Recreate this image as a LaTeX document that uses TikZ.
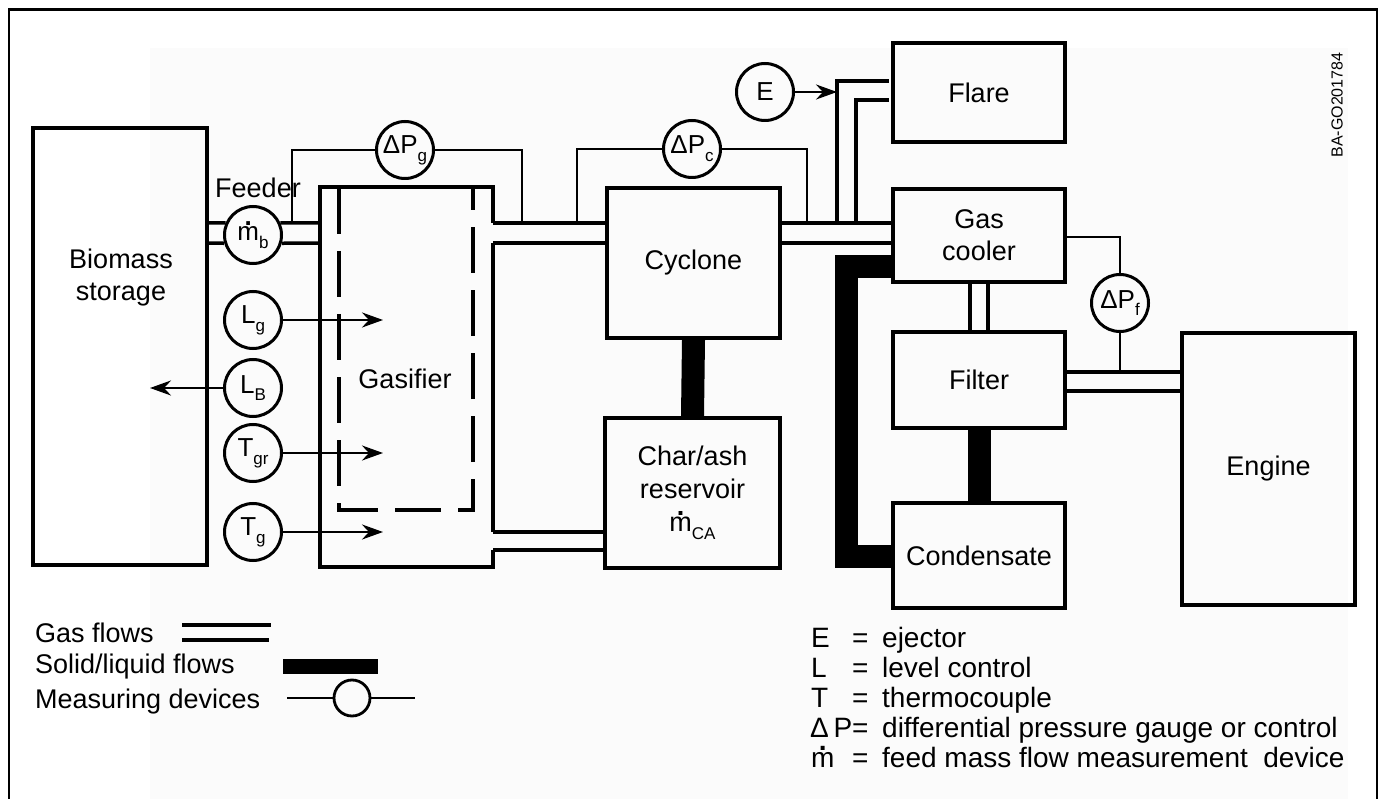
\documentclass[tikz,border=0pt]{standalone}
\usepackage{fontspec}
\setmainfont{Liberation Sans}
\usetikzlibrary{arrows.meta}
\newcommand{\mdt}{\leavevmode\setbox0\hbox{m}\hbox to \wd0{\hss\raisebox{0.58em}{\textbf{.}}\hss}\kern-\wd0 m}
\newcommand{\sbs}[1]{\raisebox{-0.3em}{\fontsize{17}{17}\selectfont #1}}
\definecolor{paper}{RGB}{251,251,251}
\begin{document}
\begin{tikzpicture}[x=1pt,y=-1pt,
  boxline/.style={line width=3.5pt, line join=miter},
  box/.style={draw, boxline, inner sep=0pt, font=\fontsize{27}{32}\selectfont, align=center},
  lbl/.style={inner sep=0pt, font=\fontsize{27}{32}\selectfont, align=center},
  meas/.style={draw, circle, line width=3pt, minimum size=57pt, inner sep=0pt, font=\fontsize{26}{26}\selectfont},
  pipe/.style={line width=3.5pt},
  sig/.style={line width=2.6pt},
  solidflow/.style={line width=23pt},
  arr/.style={line width=2.8pt, -{Stealth[length=21pt,width=15pt,inset=7pt]}},
  dashbox/.style={line width=3.5pt, dash pattern=on 46pt off 17pt},
  legtxt/.style={inner sep=0pt, anchor=base west, font=\fontsize{27}{32}\selectfont},
  keytxt/.style={inner sep=0pt, anchor=base west, font=\fontsize{28}{32}\selectfont}
]
\useasboundingbox (0,0) rectangle (1381,799);
\fill[paper] (150,48) rectangle (1348,799);
\draw[line width=2.5pt] (9,799) -- (9,9.5) -- (1377,9.5) -- (1377,799);

% level coordinates
\coordinate (Y223) at (0,223);
\coordinate (Y237) at (0,237);
\coordinate (Y243) at (0,243);
\coordinate (Y372) at (0,372);
\coordinate (Y391) at (0,391);
\coordinate (Y532) at (0,532);
\coordinate (Y550) at (0,550);
\coordinate (X970) at (970,0);
\coordinate (X988) at (988,0);

% boxes
\node[box, minimum width=174pt, minimum height=437pt] (storage) at (120,346.5) {};
\node[lbl] (storagelbl) at (121,278) {Biomass\\storage};
\node[draw=none, minimum width=173pt, minimum height=380pt, inner sep=0pt] (gasifier) at (406.5,377) {};
\node[lbl] (gaslbl) at (405,379) {Gasifier};
\node[box, minimum width=173pt, minimum height=150pt] (cyclone) at (693.5,263) {Cyclone};
\node[box, minimum width=175pt, minimum height=150pt, font=\fontsize{27}{33}\selectfont] (char) at (692.5,493) {Char/ash\\reservoir\\\mdt\sbs{CA}};
\node[box, minimum width=172pt, minimum height=99pt] (flare) at (979,92.5) {Flare};
\node[box, minimum width=172pt, minimum height=93pt] (gc) at (979,235.5) {Gas\\cooler};
\node[box, minimum width=172pt, minimum height=96pt] (filter) at (979,380) {Filter};
\node[box, minimum width=172pt, minimum height=105pt] (cond) at (979,555.5) {Condensate};
\node[box, minimum width=173pt, minimum height=272pt] (engine) at (1268.5,469) {Engine};
\node[lbl] (feederlbl) at (258,188) {Feeder};

% gasifier outline with pipe openings
\draw[boxline] (gasifier.east|-Y223) -- (gasifier.north east) -- (gasifier.north west)
  -- (gasifier.south west) -- (gasifier.south east) -- (gasifier.east|-Y550);
\draw[boxline] (gasifier.east|-Y243) -- (gasifier.east|-Y532);
\coordinate (dTL) at (339,188);
\coordinate (dBL) at (339,510);
\coordinate (dBR) at (473,510);
\coordinate (dTR) at (473,188);
\draw[dashbox] (dTL) -- (dBL) -- (dBR) -- (dTR);

% measuring devices
\node[meas] (mb) at (253,235) {\mdt\sbs{b}};
\node[meas] (Lg) at (253,320) {L\sbs{g}};
\node[meas] (LB) at (253,388) {L\sbs{B}};
\node[meas] (Tgr) at (253,453) {T\sbs{gr}};
\node[meas] (Tg) at (253,532) {T\sbs{g}};
\node[meas] (dPg) at (405,150) {ΔP\sbs{g}};
\node[meas] (dPc) at (692,149) {ΔP\sbs{c}};
\node[meas] (E) at (765,92) {E};
\node[meas] (dPf) at (1120,303) {ΔP\sbs{f}};

% gas pipes
\draw[pipe] (storage.east|-Y223) -- (mb.156);
\draw[pipe] (mb.24) -- (gasifier.west|-Y223);
\draw[pipe] (storage.east|-Y243) -- (mb.196);
\draw[pipe] (mb.344) -- (gasifier.west|-Y243);
\draw[pipe] (gasifier.east|-Y223) -- (cyclone.west|-Y223);
\draw[pipe] (gasifier.east|-Y243) -- (cyclone.west|-Y243);
\draw[pipe] (cyclone.east|-Y223) -- (gc.west|-Y223);
\draw[pipe] (cyclone.east|-Y243) -- (gc.west|-Y243);
\draw[pipe] (gasifier.east|-Y532) -- (char.west|-Y532);
\draw[pipe] (gasifier.east|-Y550) -- (char.west|-Y550);
\draw[pipe] (gc.south-|X970) -- (filter.north-|X970);
\draw[pipe] (gc.south-|X988) -- (filter.north-|X988);
\draw[pipe] (filter.east|-Y372) -- (engine.west|-Y372);
\draw[pipe] (filter.east|-Y391) -- (engine.west|-Y391);
\coordinate (fo1) at (837,222);
\coordinate (fo2) at (889,81);
\coordinate (fi1) at (856,222);
\coordinate (fi2) at (889,100);
\draw[pipe] (fo1) |- (fo2);
\draw[pipe] (fi1) |- (fi2);

% signal lines
\coordinate (tapg1) at (292,222);
\coordinate (tapg2) at (522,222);
\coordinate (tapc1) at (577,222);
\coordinate (tapc2) at (807,222);
\draw[sig] (dPg.west) -| (tapg1);
\draw[sig] (dPg.east) -| (tapg2);
\draw[sig] (dPc.west) -| (tapc1);
\draw[sig] (dPc.east) -| (tapc2);
\draw[sig] (gc.east|-Y237) -| (dPf.north);
\draw[sig] (dPf.south) -- (dPf.south|-Y372);

% arrows
\coordinate (LgT) at (383,320);
\coordinate (LBT) at (150,388);
\coordinate (TgrT) at (383,453);
\coordinate (TgT) at (383,532);
\coordinate (ET) at (837,92);
\draw[arr] (Lg) -- (LgT);
\draw[arr] (LB) -- (LBT);
\draw[arr] (Tgr) -- (TgrT);
\draw[arr] (Tg) -- (TgT);
\draw[arr] (E) -- (ET);

% solid / liquid flows
\draw[solidflow] (cyclone.south) -- (char.north);
\draw[solidflow] (filter.south) -- (cond.north);
\coordinate (sA) at (846,267);
\coordinate (sB) at (846,556);
\draw[solidflow, line join=miter] (gc.west|-sA) -- (sA) -- (sB) -- (cond.west|-sB);

% figure code
\node[rotate=90, inner sep=0pt, font=\fontsize{16}{16}\selectfont] (code) at (1337,105) {BA-GO201784};

% legend (left)
\node[legtxt] (lg1) at (35,642) {Gas flows};
\node[legtxt] (lg2) at (35,673) {Solid/liquid flows};
\node[legtxt] (lg3) at (35,708) {Measuring devices};
\coordinate (ga1) at (182,625);
\coordinate (ga2) at (271,625);
\coordinate (gb1) at (182,640);
\coordinate (gb2) at (269,640);
\draw[pipe] (ga1) -- (ga2);
\draw[pipe] (gb1) -- (gb2);
\fill (283,659) rectangle (378,674);
\node[draw, circle, line width=2.8pt, minimum size=36pt, inner sep=0pt] (legc) at (352,698) {};
\coordinate (lm1) at (287,698);
\coordinate (lm2) at (415,698);
\draw[sig] (lm1) -- (legc);
\draw[sig] (legc) -- (lm2);

% legend (right)
\node[keytxt] (k1s) at (811,647) {E};
\node[keytxt] (k1e) at (852,647) {=};
\node[keytxt] (k1t) at (882,647) {ejector};
\node[keytxt] (k2s) at (811,677) {L};
\node[keytxt] (k2e) at (852,677) {=};
\node[keytxt] (k2t) at (882,677) {level control};
\node[keytxt] (k3s) at (811,707) {T};
\node[keytxt] (k3e) at (852,707) {=};
\node[keytxt] (k3t) at (882,707) {thermocouple};
\node[keytxt] (k4s) at (810,737) {Δ\,P=};
\node[keytxt] (k4t) at (882,737) {differential pressure gauge or control};
\node[keytxt] (k5s) at (811,767) {\mdt};
\node[keytxt] (k5e) at (852,767) {=};
\node[keytxt] (k5t) at (882,767) {feed mass flow measurement\ \ device};
\end{tikzpicture}
\end{document}
